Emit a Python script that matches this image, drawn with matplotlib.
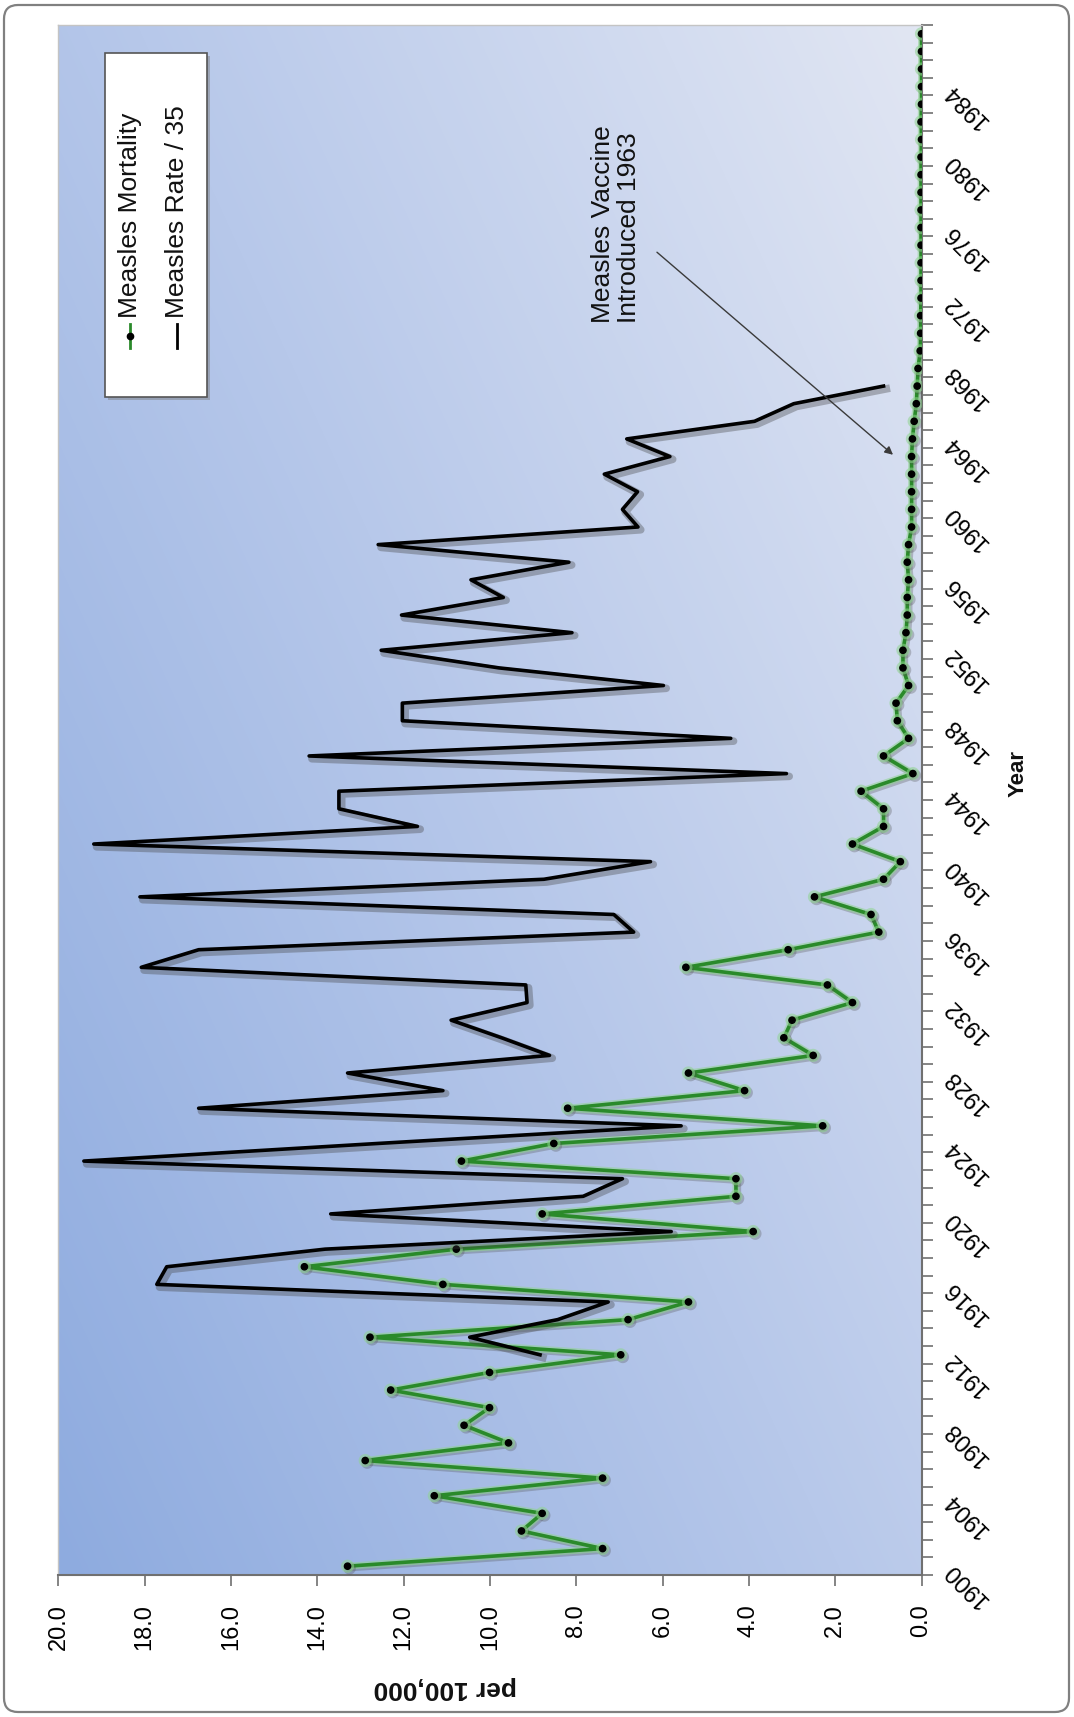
import numpy as np
import matplotlib
matplotlib.use('Agg')
import matplotlib.pyplot as plt
from matplotlib.patches import FancyBboxPatch, Rectangle
from matplotlib.lines import Line2D
import matplotlib.patheffects as pe
from matplotlib.colors import LinearSegmentedColormap
from matplotlib.transforms import IdentityTransform

# ---------------- data ----------------
years = list(range(1900, 1988))
mortality = [13.30, 7.39, 9.27, 8.79, 11.29, 7.39, 12.89, 9.57, 10.60, 10.01,
             12.30, 10.01, 6.97, 12.78, 6.80, 5.40, 11.09, 14.30, 10.78, 3.90,
             8.79, 4.30, 4.30, 10.66, 8.52, 2.29, 8.20, 4.10, 5.40, 2.51,
             3.19, 3.00, 1.60, 2.18, 5.46, 3.09, 0.99, 1.17, 2.48, 0.88,
             0.49, 1.60, 0.88, 0.88, 1.40, 0.20, 0.88, 0.30, 0.56, 0.59,
             0.30, 0.43, 0.43, 0.36, 0.33, 0.33, 0.30, 0.33, 0.30, 0.23,
             0.23, 0.23, 0.23, 0.23, 0.21, 0.17, 0.12, 0.10, 0.08, 0.03,
             0.02, 0.02, 0.01, 0.01, 0.01, 0.01, 0.01, 0.01, 0.01, 0.01,
             0.01, 0.00, 0.01, 0.00, 0.00, 0.00, 0.00, 0.00]
rate_years = list(range(1912, 1968))
rate_div35 = [8.84, 10.47, 8.43, 7.26, 17.72, 17.49, 13.82, 5.80,
              13.69, 7.84, 6.93, 19.41, 12.60, 5.57, 16.75, 11.09, 13.30, 8.62,
              9.73, 10.90, 9.14, 9.17, 18.08, 16.75, 6.67, 7.13, 18.11, 8.75,
              6.28, 19.18, 11.68, 13.50, 13.50, 3.13, 14.19, 4.42, 12.03, 12.03,
              5.98, 9.79, 12.52, 8.10, 12.05, 9.69, 10.44, 8.17, 12.59, 6.57,
              6.93, 6.58, 7.35, 5.83, 6.83, 3.87, 2.96, 0.88]
value_ticks = [0, 2, 4, 6, 8, 10, 12, 14, 16, 18, 20]
year_labels = list(range(1900, 1985, 4))

series_names = ["Measles Mortality", "Measles Rate / 35"]
annotation_text = "Measles Vaccine\nIntroduced 1963"

# ---------------- figure ----------------
plt.rcParams['font.family'] = ['Liberation Sans', 'DejaVu Sans']
W, H = 1074, 1717
fig = plt.figure(figsize=(W / 100, H / 100), dpi=100)


def fx(px):
    return px / W


def fy(py):
    return 1 - py / H


# rounded outer border (pixel coordinates, y from bottom)
border = FancyBboxPatch((4, 5), 1065, 1707, boxstyle='round,pad=0,rounding_size=14',
                        transform=IdentityTransform(), fc='white', ec='#808080', lw=1.6,
                        zorder=-2)
fig.patches.append(border)

ax = fig.add_axes([fx(58.4), fy(1575), (921.5 - 58.4) / W, 1550 / H])

# gradient background of plot area
nx, ny = 200, 300
u = np.linspace(0, 1, nx)[None, :]
v = np.linspace(0, 1, ny)[:, None]
t = (u * 0.55 + v * 0.45)
cmap = LinearSegmentedColormap.from_list('bg', ['#8eabdf', '#b7c8ea', '#e1e6f3'])
ax.imshow(t, extent=[0, 1, 0, 1], transform=ax.transAxes, origin='lower',
          cmap=cmap, aspect='auto', zorder=0, interpolation='bilinear')

# series
ax.plot(mortality, years, color='#2a8a2a', lw=2.6, marker='o', ms=4.5,
        mfc='black', mec='black', zorder=3,
        path_effects=[pe.SimpleLineShadow(offset=(1.5, -1.5), shadow_color='#505050',
                                          alpha=0.3, linewidth=4.5),
                      pe.Stroke(linewidth=5, foreground='#8fd48f', alpha=0.55),
                      pe.Normal()])
ax.plot(rate_div35, rate_years, color='black', lw=2.6, zorder=4,
        path_effects=[pe.SimpleLineShadow(offset=(2, -2), shadow_color='#404040',
                                          alpha=0.35, linewidth=5.5),
                      pe.Normal()])

# axes formatting
ax.set_xlim(20, 0)
ax.set_ylim(1899.5, 1987.5)
ax.set_xticks(value_ticks)
ax.set_xticklabels([f'{v:.1f}' for v in value_ticks], rotation=90)
ax.yaxis.tick_right()
ax.set_yticks(year_labels)
ax.set_yticklabels([str(y) for y in year_labels])
ax.set_yticks(np.arange(1899.5, 1988, 1), minor=True)
ax.tick_params(axis='x', which='both', length=8, width=1.2, color='#707070',
               pad=13, labelsize=17, direction='out', top=False)
ax.tick_params(axis='y', which='major', length=0, pad=19, labelsize=17,
               left=False, right=True)
ax.tick_params(axis='y', which='minor', length=8, width=1.2, color='#707070',
               direction='out', left=False, right=True)
for lab in ax.get_yticklabels():
    lab.set_rotation(135)
    lab.set_rotation_mode('anchor')
    lab.set_ha('right')
    lab.set_va('center')

for side in ['bottom', 'right']:
    ax.spines[side].set_color('#707070')
    ax.spines[side].set_linewidth(1.5)
for side in ['top', 'left']:
    ax.spines[side].set_color('#c4c4c4')
    ax.spines[side].set_linewidth(1.0)

# annotation
ax.annotate('', xy=(0.66, 1963.1), xytext=(6.13, 1974.6),
            arrowprops=dict(arrowstyle='-|>', color='#3a3a3a', lw=1.0,
                            mutation_scale=12, shrinkA=0, shrinkB=0), zorder=5)
ax.text(7.08, 1970.6, annotation_text, rotation=90, rotation_mode='anchor',
        ha='left', va='center', fontsize=19, color='#111111', linespacing=1.15,
        zorder=5)

# axis titles
fig.text(fx(445), fy(1688), 'per 100,000', rotation=180, ha='center', va='center',
         fontsize=19, fontweight='bold', color='#111111')
fig.text(fx(1018), fy(773), 'Year', rotation=90, ha='center', va='center',
         fontsize=16, fontweight='bold', color='#111111')

# legend (drawn manually because text is rotated)
shadow = Rectangle((fx(108), fy(400)), fx(102), (400 - 56) / H, transform=fig.transFigure,
                   fc='#7a7a7a', ec='none', alpha=0.45, zorder=5)
box = Rectangle((fx(105), fy(397)), fx(102), (397 - 53) / H, transform=fig.transFigure,
                fc='white', ec='#555555', lw=1.2, zorder=6)
fig.patches.extend([shadow, box])
fig.lines.append(Line2D([fx(130), fx(130)], [fy(348), fy(324)], transform=fig.transFigure,
                        color='#2a8a2a', lw=2, zorder=7))
fig.lines.append(Line2D([fx(130)], [fy(336)], transform=fig.transFigure, marker='o',
                        ms=4.5, color='black', lw=0, zorder=8))
fig.lines.append(Line2D([fx(177), fx(177)], [fy(348), fy(324)], transform=fig.transFigure,
                        color='black', lw=2, zorder=7))
fig.text(fx(130), fy(318), series_names[0], rotation=90, rotation_mode='anchor',
         ha='left', va='center', fontsize=19, color='#111111', zorder=8)
fig.text(fx(177), fy(318), series_names[1], rotation=90, rotation_mode='anchor',
         ha='left', va='center', fontsize=19, color='#111111', zorder=8)

fig.savefig('out.png', dpi=100)
